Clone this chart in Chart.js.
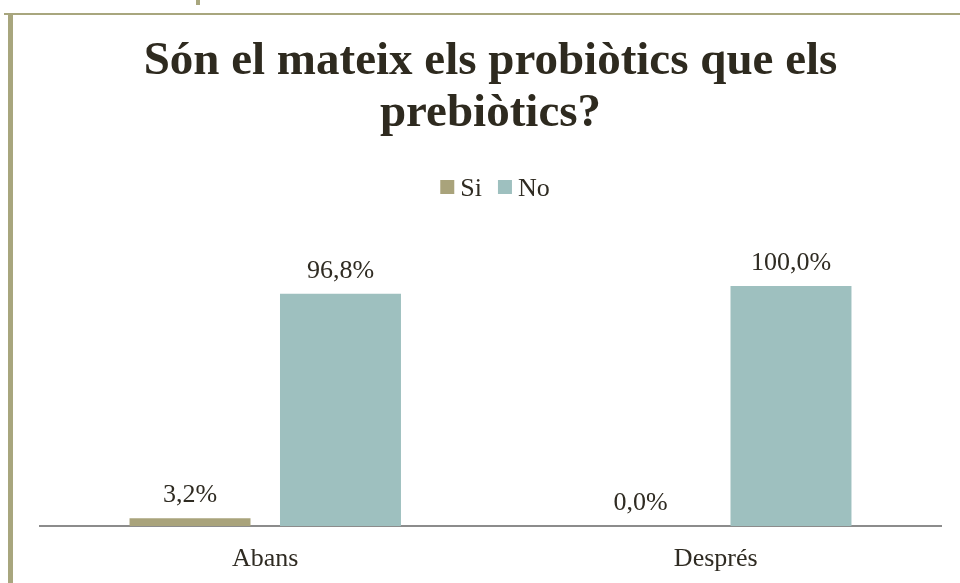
<!DOCTYPE html>
<html>
<head>
<meta charset="utf-8">
<script src="https://cdn.jsdelivr.net/npm/chart.js@4/dist/chart.umd.min.js"></script>
<style>
  html, body { margin: 0; padding: 0; background: #ffffff; }
  canvas { display: block; }
</style>
</head>
<body>
<canvas id="c" width="960" height="583"></canvas>
<script>
const titleLines = ["Són el mateix els probiòtics que els", "prebiòtics?"];
const categories = ["Abans", "Després"];
const seriesNames = ["Si", "No"];
const siValues = [3.2, 0.0];
const noValues = [96.8, 100.0];
const colors = ["#A9A37B", "#9EC0BF"];

const SERIF = "'Liberation Serif', 'Times New Roman', serif";
const TEXT = "#2F2B22";

function fmt(v) { return v.toFixed(1).replace('.', ',') + '%'; }

const framePlugin = {
  id: 'frame',
  beforeDraw(chart) {
    const ctx = chart.ctx;
    ctx.save();
    ctx.fillStyle = '#A8A67E';
    ctx.fillRect(4, 13, 956, 2);      // top rule
    ctx.fillRect(8, 13, 5, 570);      // left rule
    ctx.fillRect(196, 0, 4, 5);       // small tick at top
    ctx.restore();
  }
};

const labelsPlugin = {
  id: 'labels',
  afterDatasetsDraw(chart) {
    const ctx = chart.ctx;
    ctx.save();
    ctx.font = "26px " + SERIF;
    ctx.fillStyle = TEXT;
    ctx.textAlign = 'center';
    ctx.textBaseline = 'alphabetic';
    chart.data.datasets.forEach((ds, di) => {
      const meta = chart.getDatasetMeta(di);
      meta.data.forEach((bar, i) => {
        ctx.fillText(fmt(ds.data[i]), bar.x, bar.y - 16);
      });
    });
    ctx.restore();
  },
  afterDraw(chart) {
    // legend
    const ctx = chart.ctx;
    ctx.save();
    ctx.font = "26px " + SERIF;
    const box = 14, gapText = 6, gapItem = 16;
    const items = chart.data.datasets.map(ds => ({ label: ds.label, color: ds.backgroundColor, w: ctx.measureText(ds.label).width }));
    let total = 0;
    items.forEach((it, k) => { total += box + gapText + it.w + (k < items.length - 1 ? gapItem : 0); });
    let x = 495 - total / 2;
    const baseY = 196;
    items.forEach(it => {
      ctx.fillStyle = it.color;
      ctx.fillRect(x, 180, box, box);
      x += box + gapText;
      ctx.fillStyle = TEXT;
      ctx.textAlign = 'left';
      ctx.textBaseline = 'alphabetic';
      ctx.fillText(it.label, x, baseY);
      x += it.w + gapItem;
    });
    ctx.restore();
  }
};

new Chart(document.getElementById('c'), {
  type: 'bar',
  data: {
    labels: categories,
    datasets: [
      { label: seriesNames[0], data: siValues, backgroundColor: colors[0] },
      { label: seriesNames[1], data: noValues, backgroundColor: colors[1] }
    ]
  },
  options: {
    responsive: false,
    animation: false,
    devicePixelRatio: 1,
    layout: { padding: { left: 40, right: 19, top: 0, bottom: 0 } },
    datasets: { bar: { categoryPercentage: 0.668, barPercentage: 0.804 } },
    plugins: {
      legend: { display: false },
      tooltip: { enabled: false },
      title: {
        display: true,
        text: titleLines,
        color: "#2E2A1F",
        font: { family: SERIF, size: 47, weight: 'bold', lineHeight: 1.106 },
        padding: { top: 36, bottom: 146 }
      }
    },
    scales: {
      x: {
        grid: { display: false },
        border: { display: true, color: '#8C8C8C', width: 2 },
        ticks: { color: TEXT, font: { family: SERIF, size: 26 }, padding: 10 },
        afterFit(scale) { scale.height = 57; }
      },
      y: {
        display: false,
        min: 0,
        max: 100
      }
    }
  },
  plugins: [framePlugin, labelsPlugin]
});
</script>
</body>
</html>
